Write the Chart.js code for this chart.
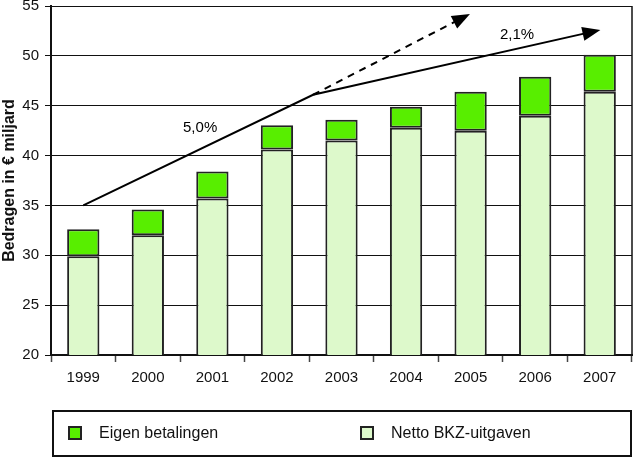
<!DOCTYPE html>
<html><head><meta charset="utf-8">
<script src="https://cdn.jsdelivr.net/npm/chart.js@4"></script>
<style>
html,body{margin:0;padding:0;background:#fff;overflow:hidden;}
#wrap{position:relative;width:635px;height:459px;overflow:hidden;}
#c{position:absolute;left:0;top:-9px;}
#legend{position:absolute;left:52px;top:410px;width:576px;height:43px;border:2px solid #111;font-family:"Liberation Sans",Arial,sans-serif;font-size:16px;color:#111;}
.it{position:absolute;top:12px;display:flex;align-items:center;}
.sw{width:10px;height:10px;border:2px solid #222;margin-right:17px;}
</style></head>
<body><div id="wrap"><canvas id="c" width="635" height="468"></canvas>
<div id="legend">
<div class="it" style="left:14px"><span class="sw" style="background:#58EE00"></span><span>Eigen betalingen</span></div>
<div class="it" style="left:306px"><span class="sw" style="background:#DDF9CB"></span><span>Netto BKZ-uitgaven</span></div>
</div></div>
<script>
const years = ['1999','2000','2001','2002','2003','2004','2005','2006','2007'];
const netto = [29.9, 32.0, 35.7, 40.6, 41.5, 42.8, 42.5, 44.0, 46.4];
const eigen = [2.7, 2.6, 2.7, 2.45, 2.1, 2.1, 3.9, 3.9, 3.7];
const yTicks = [20, 25, 30, 35, 40, 45, 50, 55];
// trend arrows in data coordinates [categoryIndex, value]
const trendStart = [0, 35.0];
const trendBreak = [3.56, 46.1];
const trendSolidEnd = [8.01, 52.6];
const trendDashedEnd = [5.99, 54.2];
const trendLabels = [{text:'5,0%', x:1.81, y:42.75}, {text:'2,1%', x:6.72, y:52.1}];

const FONT = '"Liberation Sans", Arial, sans-serif';

function arrowHead(ctx, x0, y0, x1, y1){
  const a = Math.atan2(y1-y0, x1-x0), L = 18, W = 7;
  ctx.beginPath();
  ctx.moveTo(x1, y1);
  ctx.lineTo(x1 - L*Math.cos(a) + W*Math.sin(a), y1 - L*Math.sin(a) - W*Math.cos(a));
  ctx.lineTo(x1 - L*Math.cos(a) - W*Math.sin(a), y1 - L*Math.sin(a) + W*Math.cos(a));
  ctx.closePath(); ctx.fill();
}

const overlay = {
  id: 'overlay',
  afterDatasetsDraw(chart){
    const {ctx, chartArea:ca, scales:{x, y}} = chart;
    const P = p => [x.getPixelForValue(p[0]), y.getPixelForValue(p[1])];
    ctx.save();
    ctx.strokeStyle = '#111'; ctx.lineWidth = 1.5;
    ctx.beginPath(); ctx.moveTo(ca.right, ca.top); ctx.lineTo(ca.right, ca.bottom); ctx.stroke();
    const s = P(trendStart), b = P(trendBreak), e = P(trendSolidEnd), d = P(trendDashedEnd);
    ctx.strokeStyle = '#000'; ctx.fillStyle = '#000'; ctx.lineWidth = 2;
    const as = Math.atan2(e[1]-b[1], e[0]-b[0]);
    ctx.beginPath(); ctx.moveTo(s[0], s[1]); ctx.lineTo(b[0], b[1]);
    ctx.lineTo(e[0] - 10*Math.cos(as), e[1] - 10*Math.sin(as));
    ctx.stroke();
    arrowHead(ctx, b[0], b[1], e[0], e[1]);
    ctx.setLineDash([7, 6]);
    const ad = Math.atan2(d[1]-b[1], d[0]-b[0]);
    ctx.beginPath(); ctx.moveTo(b[0], b[1]); ctx.lineTo(d[0] - 12*Math.cos(ad), d[1] - 12*Math.sin(ad)); ctx.stroke();
    ctx.setLineDash([]);
    arrowHead(ctx, b[0], b[1], d[0], d[1]);
    ctx.font = '15px ' + FONT; ctx.textAlign = 'center'; ctx.textBaseline = 'middle';
    trendLabels.forEach(l => { ctx.fillText(l.text, x.getPixelForValue(l.x), y.getPixelForValue(l.y)); });
    ctx.restore();
  }
};

new Chart(document.getElementById('c'), {
  type: 'bar',
  data: {
    labels: years,
    datasets: [
      {label:'Netto BKZ-uitgaven', data: netto, backgroundColor:'#DDF9CB', borderColor:'#222', borderWidth:2, borderSkipped:false, stack:'s', categoryPercentage:1, barPercentage:0.5},
      {label:'Eigen betalingen', data: eigen, backgroundColor:'#58EE00', borderColor:'#222', borderWidth:2, borderSkipped:false, stack:'s', categoryPercentage:1, barPercentage:0.5}
    ]
  },
  options: {
    responsive:false, animation:false,
    layout:{padding:{top:5, right:3, left:0, bottom:0}},
    plugins:{legend:{display:false}, tooltip:{enabled:false}},
    scales:{
      x:{
        stacked:true,
        grid:{offset:true, drawOnChartArea:false, drawTicks:true, tickLength:7, color:'#444', tickWidth:1.5},
        border:{color:'#111', width:2},
        ticks:{color:'#111', font:{family:FONT, size:15}, padding:7},
        afterFit(s){ s.height = 104; }
      },
      y:{
        stacked:true, min:20, max:55,
        afterBuildTicks(s){ s.ticks = yTicks.map(v => ({value:v})); },
        grid:{color:'#111', lineWidth:1, tickLength:6},
        border:{color:'#111', width:2},
        ticks:{color:'#111', font:{family:FONT, size:15}, padding:6},
        title:{display:true, text:'Bedragen in € miljard', color:'#111', font:{family:FONT, size:16, weight:'bold'}, padding:0},
        afterFit(s){ s.width = 51; }
      }
    }
  },
  plugins:[overlay]
});
</script></body></html>
